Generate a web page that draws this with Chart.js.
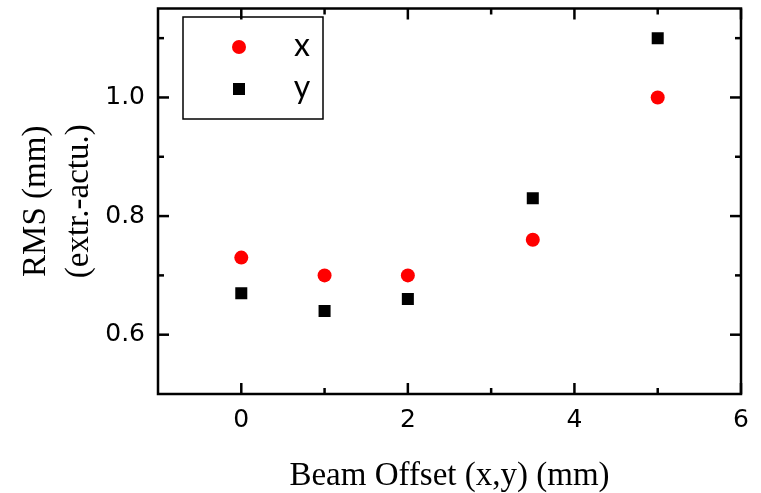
<!DOCTYPE html>
<html>
<head>
<meta charset="utf-8">
<script src="https://cdn.jsdelivr.net/npm/chart.js@4/dist/chart.umd.min.js"></script>
<style>
  html, body { margin: 0; padding: 0; background: #fff; }
  #wrap { width: 761px; height: 493px; }
</style>
</head>
<body>
<div id="wrap"><canvas id="c" width="761" height="493"></canvas></div>
<script>
// Beam offset (mm) at which RMS was measured
const offsets = [0, 1, 2, 3.5, 5];
// RMS of extracted minus actual position (mm), per plane
const rmsX = [0.73, 0.70, 0.70, 0.76, 1.00];
const rmsY = [0.67, 0.64, 0.66, 0.83, 1.10];
// Axis ticks
const xMajorTicks = [0, 2, 4, 6];
const xMinorTicks = [1, 3, 5];
const yMajorTicks = [0.6, 0.8, 1.0];
const yMinorTicks = [0.7, 0.9, 1.1];
const seriesNames = ['x', 'y'];

const toPoints = (xs, ys) => xs.map((v, i) => ({ x: v, y: ys[i] }));

// Frame with inward major/minor ticks on all four sides
const framePlugin = {
  id: 'frame',
  afterDraw(chart) {
    const { ctx, chartArea: a, scales: { x, y } } = chart;
    ctx.save();
    ctx.strokeStyle = '#000';
    ctx.lineWidth = 2.5;
    ctx.lineCap = 'butt';
    ctx.strokeRect(a.left, a.top, a.right - a.left, a.bottom - a.top);
    const tick = (x1, y1, x2, y2) => { ctx.beginPath(); ctx.moveTo(x1, y1); ctx.lineTo(x2, y2); ctx.stroke(); };
    const xt = (vals, len) => vals.forEach(v => {
      const px = x.getPixelForValue(v);
      tick(px, a.bottom, px, a.bottom - len);
      tick(px, a.top, px, a.top + len);
    });
    const yt = (vals, len) => vals.forEach(v => {
      const py = y.getPixelForValue(v);
      tick(a.left, py, a.left + len, py);
      tick(a.right, py, a.right - len, py);
    });
    xt(xMajorTicks, 11); xt(xMinorTicks, 6);
    yt(yMajorTicks, 11); yt(yMinorTicks, 6);
    ctx.restore();
  }
};

// Boxed legend inside the upper-left of the plot
const boxLegendPlugin = {
  id: 'boxLegend',
  afterDraw(chart) {
    const { ctx } = chart;
    const box = { left: 183, top: 17, width: 140, height: 102 };
    ctx.save();
    ctx.strokeStyle = '#000';
    ctx.lineWidth = 1.5;
    ctx.strokeRect(box.left, box.top, box.width, box.height);
    chart.data.datasets.forEach((ds, i) => {
      const cy = box.top + 30 + i * 42;
      ctx.fillStyle = ds.pointBackgroundColor;
      ctx.strokeStyle = ds.pointBorderColor;
      Chart.helpers.drawPoint(ctx, { pointStyle: ds.pointStyle, radius: ds.pointRadius, borderWidth: 0, rotation: 0 }, box.left + 56, cy);
      ctx.fillStyle = '#000';
      ctx.font = '32px Lato';
      ctx.textAlign = 'center';
      ctx.textBaseline = 'middle';
      ctx.fillText(ds.label, box.left + 119, cy - 1);
    });
    ctx.restore();
  }
};

new Chart(document.getElementById('c'), {
  type: 'scatter',
  data: {
    datasets: [
      {
        label: seriesNames[0],
        data: toPoints(offsets, rmsX),
        pointStyle: 'circle',
        pointRadius: 7,
        pointHoverRadius: 7,
        pointBackgroundColor: '#ff0000',
        pointBorderColor: '#ff0000',
        pointBorderWidth: 0,
        showLine: false
      },
      {
        label: seriesNames[1],
        data: toPoints(offsets, rmsY),
        pointStyle: 'rect',
        pointRadius: 8.5,
        pointHoverRadius: 8.5,
        pointBackgroundColor: '#000000',
        pointBorderColor: '#000000',
        pointBorderWidth: 0,
        showLine: false
      }
    ]
  },
  options: {
    responsive: false,
    animation: false,
    events: [],
    layout: { padding: { top: 7, right: 20, left: 0, bottom: 0 } },
    plugins: {
      legend: { display: false },
      tooltip: { enabled: false }
    },
    scales: {
      x: {
        type: 'linear',
        min: -1,
        max: 6,
        afterBuildTicks(scale) { scale.ticks = xMajorTicks.map(v => ({ value: v })); },
        afterFit(scale) { scale.height = 99; scale.paddingLeft = 0; scale.paddingRight = 0; },
        grid: { display: false, drawTicks: false },
        border: { display: false },
        ticks: {
          color: '#000',
          padding: 11,
          font: { family: 'DejaVu Sans', size: 25, lineHeight: 1.2 },
          callback: v => String(v)
        },
        title: {
          display: true,
          text: 'Beam Offset (x,y) (mm)',
          color: '#000',
          font: { family: 'Liberation Serif', size: 33, lineHeight: 0.8 },
          padding: { top: 0, bottom: 3 }
        }
      },
      y: {
        type: 'linear',
        min: 0.5,
        max: 1.15,
        afterBuildTicks(scale) { scale.ticks = yMajorTicks.map(v => ({ value: v })); },
        afterFit(scale) { scale.width = 158; scale.paddingTop = 0; scale.paddingBottom = 0; },
        grid: { display: false, drawTicks: false },
        border: { display: false },
        ticks: {
          color: '#000',
          padding: 13,
          font: { family: 'DejaVu Sans', size: 25, lineHeight: 1.2 },
          callback: v => Number(v).toFixed(1)
        },
        title: {
          display: true,
          text: ['RMS (mm)', '(extr.-actu.)'],
          color: '#000',
          font: { family: 'Liberation Serif', size: 33, lineHeight: 1.3 },
          padding: { top: 15, bottom: 0 }
        }
      }
    }
  },
  plugins: [framePlugin, boxLegendPlugin]
});
</script>
</body>
</html>
